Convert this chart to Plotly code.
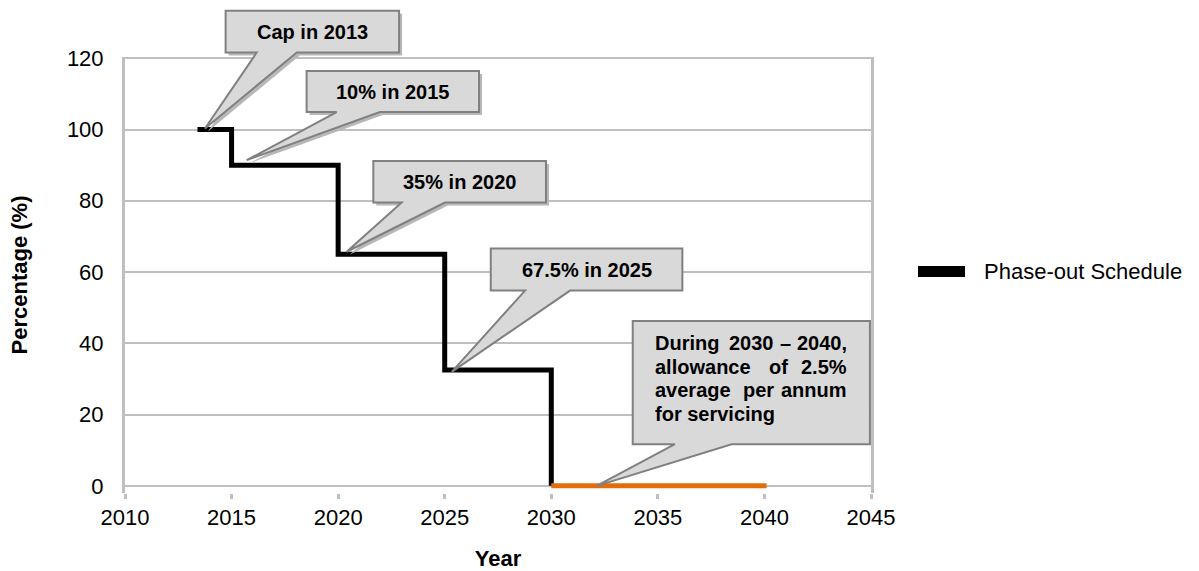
import plotly.graph_objects as go

# ---------------- data ----------------
phase_years = [2013.4, 2015, 2020, 2025, 2030]
phase_values = [100, 90, 65, 32.5, 0]
service_years = [2030, 2040.1]
service_values = [0, 0]
legend_label = "Phase-out Schedule"
x_ticks = [2010, 2015, 2020, 2025, 2030, 2035, 2040, 2045]
y_ticks = [0, 20, 40, 60, 80, 100, 120]
callout_labels = ["Cap in 2013", "10% in 2015", "35% in 2020", "67.5% in 2025"]

# ---------------- layout geometry ----------------
W, H = 1199, 571
L, R, T, B = 125, 328, 57, 78
PW, PH = W - L - R, H - T - B
X0, X1 = 2010, 2045
Y0, Y1 = -2, 120.35
FONT = "Liberation Sans, Arial, Helvetica, sans-serif"


def dx(v):
    return (v - X0) / (X1 - X0)


def dy(v):
    return (v - Y0) / (Y1 - Y0)


def px(p):
    return (p - L) / PW


def py(p):
    return (H - B - p) / PH


fig = go.Figure()
fig.add_trace(go.Scatter(x=phase_years, y=phase_values, mode="lines", line_shape="hv",
                         line=dict(color="black", width=5), name=legend_label, showlegend=False,
                         hoverinfo="skip"))
fig.add_trace(go.Scatter(x=service_years, y=service_values, mode="lines",
                         line=dict(color="#E46C0A", width=5), showlegend=False, hoverinfo="skip"))

shapes = []
annotations = []

callouts = [
    dict(box=(2014.72, 2022.86, 133.3, 121.6), base=(2016.18, 2018.06), tip=(2013.75, 100.3), shadow=True),
    dict(box=(2018.52, 2026.61, 116.4, 104.9), base=(2019.93, 2021.96), tip=(2015.71, 91.4), shadow=True),
    dict(box=(2021.65, 2029.75, 91.2, 79.5), base=(2022.98, 2025.01), tip=(2020.40, 65.7), shadow=True),
    dict(box=(2027.16, 2036.15, 66.6, 54.8), base=(2028.77, 2030.88), tip=(2025.33, 32.0), shadow=False),
    dict(box=(2033.82, 2044.95, 46.3, 11.7), base=(2035.80, 2038.46), tip=(2032.13, 0.0), shadow=False),
]


def callout_path(c, ox=0.0, oy=0.0):
    x0, x1, yt, yb = c["box"]
    b0, b1 = c["base"]
    tx, ty = c["tip"]
    pts = [(dx(x0), dy(yt)), (dx(x1), dy(yt)), (dx(x1), dy(yb)), (dx(b1), dy(yb)),
           (dx(tx), dy(ty)), (dx(b0), dy(yb)), (dx(x0), dy(yb))]
    return "M " + " L ".join(f"{a + ox:.5f},{b + oy:.5f}" for a, b in pts) + " Z"


sh_x, sh_y = 3 / PW, -3 / PH
for c in callouts:
    if c["shadow"]:
        shapes.append(dict(type="path", xref="paper", yref="paper", path=callout_path(c, sh_x, sh_y),
                           fillcolor="#b8b8b8", line=dict(width=0), layer="above"))
    shapes.append(dict(type="path", xref="paper", yref="paper", path=callout_path(c),
                       fillcolor="#D9D9D9", line=dict(color="#808080", width=2), layer="above"))

for c, lab in zip(callouts[:4], callout_labels):
    x0, x1, yt, yb = c["box"]
    annotations.append(dict(x=dx((x0 + x1) / 2), y=dy((yt + yb) / 2), xref="paper", yref="paper",
                            text=f"<b>{lab}</b>", showarrow=False, xanchor="center", yanchor="middle",
                            font=dict(family=FONT, size=20, color="black")))

words = [
    ("During", 653, "left", 343), ("2030", 726.7, "left", 343), ("\u2013", 785.5, "center", 343),
    ("2040,", 849, "right", 343),
    ("allowance", 653, "left", 366.7), ("of", 766.7, "left", 366.7), ("2.5%", 849, "right", 366.7),
    ("average", 653, "left", 390.3), ("per", 740.7, "left", 390.3), ("annum", 849, "right", 390.3),
    ("for servicing", 653, "left", 414),
]
for w, xp, anc, yp in words:
    annotations.append(dict(x=px(xp), y=py(yp), xref="paper", yref="paper", text=f"<b>{w}</b>",
                            showarrow=False, xanchor=anc, yanchor="middle",
                            font=dict(family=FONT, size=20, color="black")))

shapes.append(dict(type="rect", xref="paper", yref="paper", x0=px(918), x1=px(965), y0=py(277), y1=py(266),
                   fillcolor="black", line=dict(width=0)))
annotations.append(dict(x=px(982), y=py(271.5), xref="paper", yref="paper", text=legend_label,
                        showarrow=False, xanchor="left", yanchor="middle",
                        font=dict(family=FONT, size=22, color="black")))

fig.update_layout(
    template="none",
    width=W, height=H,
    margin=dict(l=L, r=R, t=T, b=B, autoexpand=False),
    paper_bgcolor="white", plot_bgcolor="white",
    showlegend=False,
    hovermode=False,
    font=dict(family=FONT, size=22, color="black"),
    shapes=shapes, annotations=annotations,
    xaxis=dict(range=[X0, X1], tickvals=x_ticks, ticktext=[str(v) for v in x_ticks],
               showgrid=False, zeroline=False, showline=False,
               ticks="outside", ticklen=5, tickwidth=3, tickcolor="#BFBFBF",
               tickfont=dict(family=FONT, size=22, color="black"),
               title=dict(text="<b>Year</b>", font=dict(family=FONT, size=22, color="black"), standoff=24)),
    yaxis=dict(range=[Y0, Y1], tickvals=y_ticks, ticktext=[str(v) for v in y_ticks],
               showgrid=True, gridcolor="#BFBFBF", gridwidth=2, zeroline=False,
               showline=True, linecolor="#BFBFBF", linewidth=3, mirror=True, ticks="",
               ticklabelstandoff=14,
               tickfont=dict(family=FONT, size=22, color="black"),
               title=dict(text="<b>Percentage (%)</b>", font=dict(family=FONT, size=22, color="black"), standoff=34)),
)

fig.write_html("out.html")
